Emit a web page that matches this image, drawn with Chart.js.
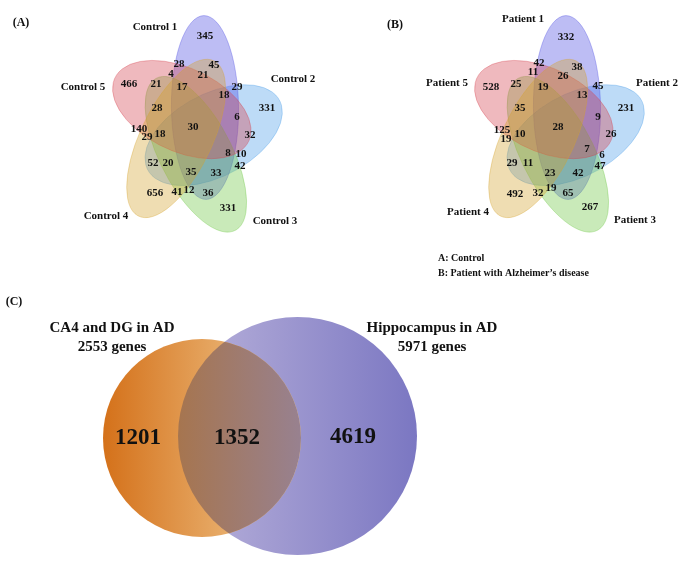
<!DOCTYPE html>
<html>
<head>
<meta charset="utf-8">
<script src="https://cdn.jsdelivr.net/npm/chart.js@4.4.0/dist/chart.umd.min.js"></script>
<style>
  html, body { margin: 0; padding: 0; background: #fff; }
  #wrap { width: 685px; height: 573px; position: relative; }
</style>
</head>
<body>
<div id="wrap"><canvas id="vennChart"></canvas></div>
<script>
// ---- data ----
const controlSets = ['Control 1', 'Control 2', 'Control 3', 'Control 4', 'Control 5'];
const patientSets = ['Patient 1', 'Patient 2', 'Patient 3', 'Patient 4', 'Patient 5'];
const controlCounts = [345, 28, 45, 4, 21, 466, 21, 17, 29, 18, 28, 331, 6, 30, 140,
                       29, 18, 32, 8, 10, 52, 20, 42, 35, 33, 656, 41, 12, 36, 331];
const patientCounts = [332, 42, 38, 11, 26, 528, 25, 19, 45, 13, 35, 231, 9, 28, 125,
                       19, 10, 26, 7, 6, 29, 11, 47, 23, 42, 492, 32, 19, 65, 267];
const pairSets = ['CA4 and DG in AD', 'Hippocampus in AD'];
const pairTotals = [2553, 5971];
const pairCounts = [1201, 1352, 4619];
const legendLines = ['A: Control', 'B: Patient with Alzheimer\u2019s disease'];

// ---- layout (in the units of the hidden x / y scales) ----
const posA = [[205,36],[179,64],[214,65],[171,74],[203,75],[129,84],[156,84],[182,87],[237,87],[224,95],
              [157,108],[267,108],[237,117],[193,127],[139,129],[147,137],[160,134],[250,135],[228,153],[241,154],
              [153,163],[168,163],[240,166],[191,172],[216,173],[155,193],[177,192],[189,190],[208,193],[228,208]];
const posB = [[566,37],[539,63],[577,67],[533,72],[563,76],[491,87],[516,84],[543,87],[598,86],[582,95],
              [520,108],[626,108],[598,117],[558,127],[502,130],[506,139],[520,134],[611,134],[587,149],[602,155],
              [512,163],[528,163],[600,166],[550,173],[578,173],[515,194],[538,193],[551,188],[568,193],[590,207]];
const setLabelA = [[155,27],[293,79],[275,221],[106,216],[83,87]];
const setLabelB = [[523,19],[657,83],[635,220],[468,212],[447,83]];
const pairPos = [[138,438],[237,438],[353,437]];

const centerA = [194.5, 129];
const centerB = [556.5, 129];
const squeezeX = 0.78;
const petalColors = ['rgba(72,72,225,0.36)', 'rgba(72,155,232,0.36)', 'rgba(105,198,62,0.36)',
                     'rgba(212,162,42,0.36)', 'rgba(212,62,75,0.36)'];
const drawOrder = [1, 0, 2, 4, 3];

const serif = '"Liberation Serif", "Times New Roman", serif';

// petal in a symmetric frame centred on (0,0)
function petal(i) {
  const rad = Math.PI / 180;
  const th = (6 + 72 * i) * rad;
  const th2 = th + 162 * rad;
  const tip = [114 * Math.sin(th), -114 * Math.cos(th)];
  const far = [72 * Math.sin(th2), -72 * Math.cos(th2)];
  return {
    cx: (tip[0] + far[0]) / 2, cy: (tip[1] + far[1]) / 2,
    a: Math.hypot(tip[0] - far[0], tip[1] - far[1]) / 2, b: 43,
    rot: Math.atan2(tip[1] - far[1], tip[0] - far[0])
  };
}

const vennPlugin = {
  id: 'vennPlugin',
  beforeDatasetsDraw(chart) {
    const ctx = chart.ctx;
    const xs = chart.scales.x, ys = chart.scales.y;
    const px = v => xs.getPixelForValue(v);
    const py = v => ys.getPixelForValue(v);
    const ell = (cx, cy, rx, ry, rot) => {
      ctx.beginPath();
      ctx.ellipse(px(cx), py(cy), px(cx + rx) - px(cx), Math.abs(py(cy + ry) - py(cy)), rot, 0, Math.PI * 2);
    };

    // five-set petals
    [centerA, centerB].forEach(c => {
      drawOrder.forEach(i => {
        const p = petal(i);
        ctx.save();
        ctx.save();
        ctx.translate(px(c[0]), py(c[1]));
        ctx.scale(squeezeX, 1);
        ctx.beginPath();
        ctx.ellipse(p.cx, p.cy, p.a, p.b, p.rot, 0, Math.PI * 2);
        ctx.restore();
        ctx.fillStyle = petalColors[i];
        ctx.fill();
        ctx.lineWidth = 0.8;
        ctx.strokeStyle = petalColors[i].replace('0.36)', '0.42)');
        ctx.stroke();
        ctx.restore();
      });
    });

    // two-set diagram
    ctx.save();
    const gp = ctx.createLinearGradient(px(178), 0, px(417), 0);
    gp.addColorStop(0, '#bab3db');
    gp.addColorStop(1, '#7b77c2');
    ell(297.5, 436, 119.5, 119, 0);
    ctx.fillStyle = gp;
    ctx.fill();

    const go = ctx.createLinearGradient(px(103), 0, px(300), 0);
    go.addColorStop(0, '#d4711a');
    go.addColorStop(1, '#f3cf98');
    ell(202, 438, 99, 99, 0);
    ctx.fillStyle = go;
    ctx.fill();

    ell(202, 438, 99, 99, 0);
    ctx.clip();
    const gl = ctx.createLinearGradient(px(178), 0, px(300), 0);
    gl.addColorStop(0, '#a6754f');
    gl.addColorStop(1, '#98818f');
    ell(297.5, 436, 119.5, 119, 0);
    ctx.fillStyle = gl;
    ctx.fill();
    ctx.restore();
  },
  afterDatasetsDraw(chart) {
    const ctx = chart.ctx;
    const xs = chart.scales.x, ys = chart.scales.y;
    const px = v => xs.getPixelForValue(v);
    const py = v => ys.getPixelForValue(v);
    ctx.save();
    ctx.fillStyle = '#111';
    ctx.textAlign = 'center';
    ctx.textBaseline = 'middle';

    // region counts
    [0, 1].forEach(d => {
      const meta = chart.getDatasetMeta(d);
      const vals = chart.data.datasets[d].data;
      ctx.font = 'bold 11px ' + serif;
      meta.data.forEach((pt, i) => ctx.fillText(String(vals[i].v), pt.x, pt.y));
    });
    const metaC = chart.getDatasetMeta(2);
    ctx.font = 'bold 23px ' + serif;
    metaC.data.forEach((pt, i) => ctx.fillText(String(chart.data.datasets[2].data[i].v), pt.x, pt.y));

    // set names
    ctx.font = 'bold 11px ' + serif;
    controlSets.forEach((s, i) => ctx.fillText(s, px(setLabelA[i][0]), py(setLabelA[i][1])));
    patientSets.forEach((s, i) => ctx.fillText(s, px(setLabelB[i][0]), py(setLabelB[i][1])));

    ctx.font = 'bold 15px ' + serif;
    ctx.fillText(pairSets[0], px(112), py(328));
    ctx.fillText(pairTotals[0] + ' genes', px(112), py(347));
    ctx.fillText(pairSets[1], px(432), py(328));
    ctx.fillText(pairTotals[1] + ' genes', px(432), py(347));

    // panel tags and legend
    ctx.font = 'bold 12px ' + serif;
    ctx.fillText('(A)', px(21), py(23));
    ctx.fillText('(B)', px(395), py(25));
    ctx.fillText('(C)', px(14), py(302));
    ctx.textAlign = 'left';
    ctx.font = 'bold 10px ' + serif;
    ctx.fillText(legendLines[0], px(438), py(258));
    ctx.fillText(legendLines[1], px(438), py(273));
    ctx.restore();
  }
};

const toPoints = (vals, pos) => vals.map((v, i) => ({ x: pos[i][0], y: pos[i][1], v: v }));

const ctx = document.getElementById('vennChart').getContext('2d');
const vennChart = new Chart(ctx, {
  type: 'scatter',
  data: {
    datasets: [
      { label: 'Control', data: toPoints(controlCounts, posA), pointRadius: 0 },
      { label: 'Patient', data: toPoints(patientCounts, posB), pointRadius: 0 },
      { label: 'AD regions', data: toPoints(pairCounts, pairPos), pointRadius: 0 }
    ]
  },
  options: {
    responsive: true,
    maintainAspectRatio: false,
    animation: false,
    events: [],
    layout: { padding: 0 },
    plugins: { legend: { display: false }, tooltip: { enabled: false } },
    scales: {
      x: { type: 'linear', min: 0, max: 685, display: false },
      y: { type: 'linear', min: 0, max: 573, reverse: true, display: false }
    }
  },
  plugins: [vennPlugin]
});
</script>
</body>
</html>
